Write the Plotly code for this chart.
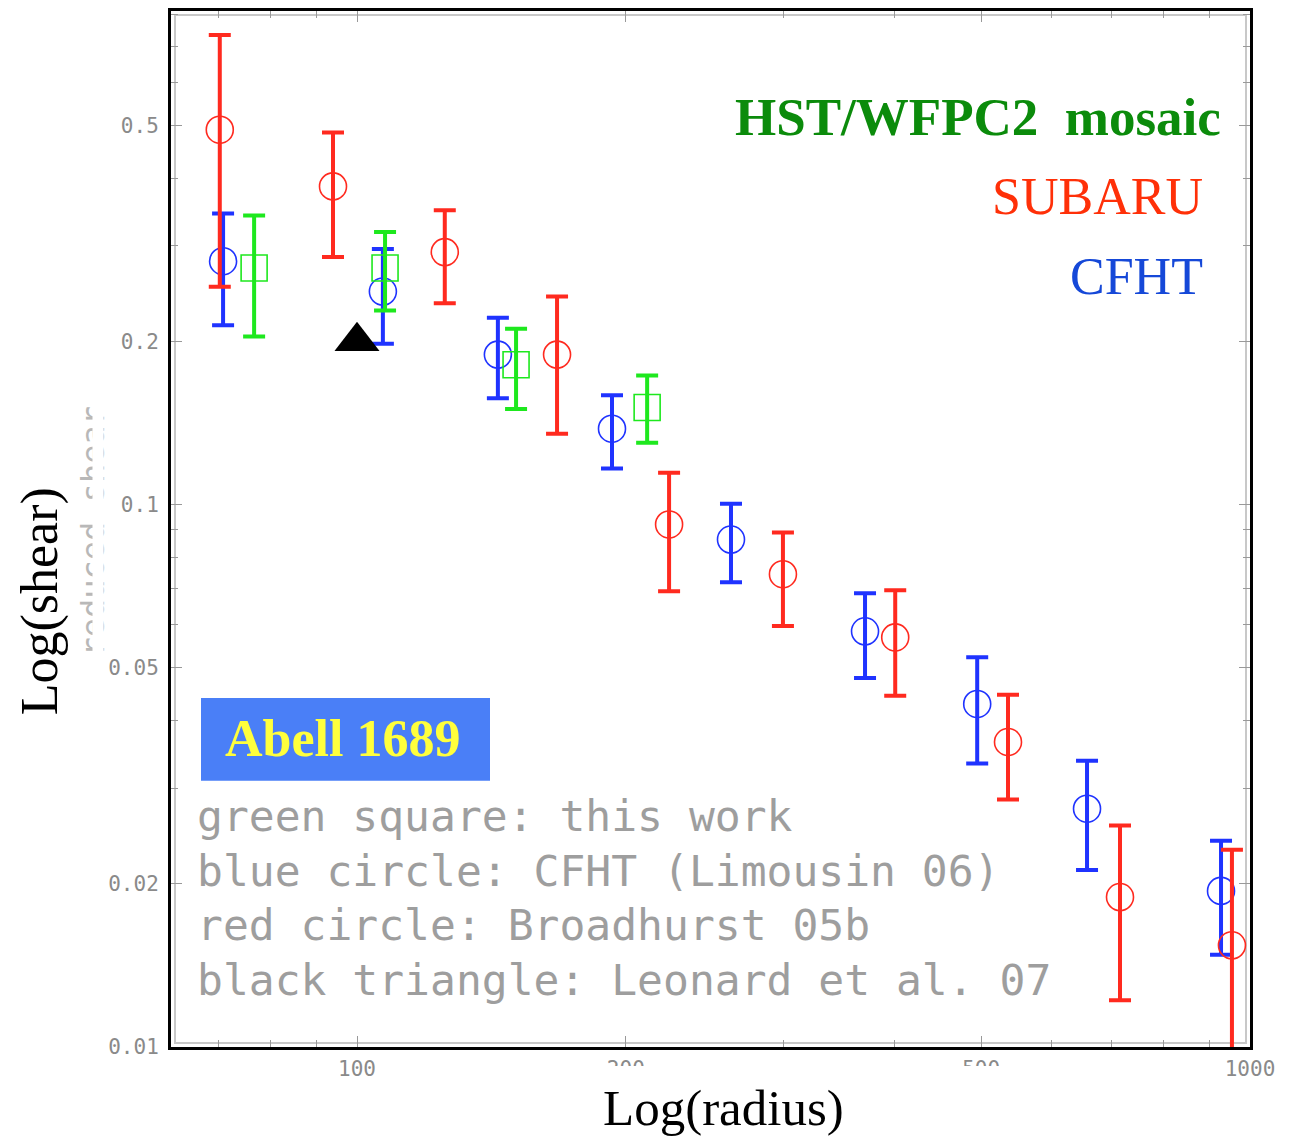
import plotly.graph_objects as go

# ---- shear profile data (radius, reduced shear, upper / lower bounds) ----
subaru_r = [70.2, 94.0, 125.4, 167.5, 223.6, 299.9, 400.6, 535.8, 715.2, 954.5]
subaru_g = [0.491, 0.386, 0.292, 0.189, 0.0919, 0.0744, 0.0569, 0.0365, 0.0189, 0.0154]
subaru_hi = [0.734, 0.485, 0.349, 0.242, 0.1145, 0.0888, 0.0695, 0.0446, 0.0256, 0.0231]
subaru_lo = [0.252, 0.286, 0.235, 0.135, 0.0692, 0.0597, 0.0444, 0.0286, 0.0122, 0.0080]

cfht_r = [70.8, 106.9, 143.8, 193.0, 262.3, 370.6, 494.9, 656.9, 928.0]
cfht_g = [0.281, 0.247, 0.189, 0.138, 0.0862, 0.0584, 0.0429, 0.0275, 0.0194]
cfht_hi = [0.344, 0.296, 0.221, 0.159, 0.1004, 0.0686, 0.0523, 0.0337, 0.0240]
cfht_lo = [0.214, 0.198, 0.157, 0.1165, 0.0719, 0.0479, 0.0333, 0.0212, 0.0148]

hst_r = [76.7, 107.5, 150.7, 211.3]
hst_g = [0.273, 0.273, 0.181, 0.151]
hst_hi = [0.341, 0.318, 0.211, 0.173]
hst_lo = [0.204, 0.228, 0.150, 0.130]

leonard_r = [100]
leonard_g = [0.2]

# ---- axis ticks ----
x_tickvals = [100, 200, 500, 1000]
x_ticktext = ["100", "200", "500", "1000"]
x_minor = [70, 80, 90, 300, 400, 600, 700, 800, 900]
y_tickvals = [0.01, 0.02, 0.05, 0.1, 0.2, 0.5]
y_ticktext = ["0.01", "0.02", "0.05", "0.1", "0.2", "0.5"]
y_minor = [0.03, 0.04, 0.06, 0.07, 0.08, 0.09, 0.3, 0.4, 0.6, 0.7, 0.8]

legend_lines = [
    "green square: this work",
    "blue circle: CFHT (Limousin 06)",
    "red circle: Broadhurst 05b",
    "black triangle: Leonard et al. 07",
]

RED = "#ff2a1f"
BLUE = "#1f33ff"
GREEN = "#1ee81e"

# page / plot-area geometry (pixels)
WIDTH, HEIGHT = 1296, 1136
L, R, T, B = 171, 1250, 8, 1047


def paper(xp, yp):
    return (xp - L) / (R - L), (B - yp) / (B - T)


def series(r, g, hi, lo, color, symbol, size, name):
    return go.Scatter(
        x=r, y=g, mode="markers", name=name,
        marker=dict(symbol=symbol, size=size, color=color,
                    line=dict(color=color, width=1.6)),
        error_y=dict(type="data", symmetric=False,
                     array=[h - v for h, v in zip(hi, g)],
                     arrayminus=[v - l for v, l in zip(g, lo)],
                     color=color, thickness=4, width=11),
        showlegend=False,
    )


fig = go.Figure()
fig.add_trace(series(cfht_r, cfht_g, cfht_hi, cfht_lo, BLUE, "circle-open", 27, "CFHT"))
fig.add_trace(series(hst_r, hst_g, hst_hi, hst_lo, GREEN, "square-open", 26, "HST/WFPC2"))
fig.add_trace(series(subaru_r, subaru_g, subaru_hi, subaru_lo, RED, "circle-open", 27, "SUBARU"))
fig.add_trace(go.Scatter(
    x=leonard_r, y=leonard_g, mode="markers", name="Leonard et al. 07",
    marker=dict(symbol="triangle-up", size=39, color="black"),
    showlegend=False,
))

tick_font = dict(family="DejaVu Sans Mono", size=21, color="#8a8a8a")

fig.update_xaxes(
    type="log", range=[2 + (L - 357) / 893, 3.0],
    tickmode="array", tickvals=x_tickvals, ticktext=x_ticktext,
    ticks="inside", ticklen=11, tickwidth=1, tickcolor="#999999",
    minor=dict(tickmode="array", tickvals=x_minor, ticks="inside",
               ticklen=7, tickwidth=1, tickcolor="#999999"),
    showline=True, linecolor="black", linewidth=3, mirror="ticks",
    showgrid=False, zeroline=False, tickfont=tick_font,
    ticklabelstandoff=1,
)
fig.update_yaxes(
    type="log", range=[-2, -1 + (503 - T) / 544],
    tickmode="array", tickvals=y_tickvals, ticktext=y_ticktext,
    ticks="inside", ticklen=11, tickwidth=1, tickcolor="#999999",
    minor=dict(tickmode="array", tickvals=y_minor, ticks="inside",
               ticklen=7, tickwidth=1, tickcolor="#999999"),
    showline=True, linecolor="black", linewidth=3, mirror="ticks",
    showgrid=False, zeroline=False, tickfont=tick_font,
    ticklabelstandoff=5,
)

shapes = []
# faint inner frame
x0, y0 = paper(L + 4, B - 4)
x1, y1 = paper(R - 4, T + 4)
shapes.append(dict(type="rect", xref="paper", yref="paper", x0=x0, y0=y0, x1=x1, y1=y1,
                   line=dict(color="#c8c8c8", width=2), layer="below"))
# blank band under the x axis behind the axis title
x0, y0 = paper(545, 1136)
x1, y1 = paper(1195, 1066)
shapes.append(dict(type="rect", xref="paper", yref="paper", x0=x0, y0=y0, x1=x1, y1=y1,
                   line=dict(width=0), fillcolor="white", layer="above"))
# cluster name box
x0, y0 = paper(201, 780)
x1, y1 = paper(490, 697)
shapes.append(dict(type="rect", xref="paper", yref="paper", x0=x0, y0=y0, x1=x1, y1=y1,
                   line=dict(width=0), fillcolor="#4a7ff7", layer="above"))

annotations = []


def note(text, xp, yp, size, color, family="Liberation Serif", xanchor="center",
         yanchor="middle", angle=0, bold=False, **kw):
    ax, ay = paper(xp, yp)
    if bold:
        text = "<b>" + text + "</b>"
    annotations.append(dict(text=text, x=ax, y=ay, xref="paper", yref="paper",
                            xanchor=xanchor, yanchor=yanchor, showarrow=False,
                            textangle=angle,
                            font=dict(family=family, size=size, color=color), **kw))


# faint original y label, partly blanked
note("reduced shear", 72, 530, 32, "#b8b8b8", family="DejaVu Sans Mono",
     xanchor="left", angle=-90)
note("\u00a0", 92, 530, 10, "white", xanchor="left", bgcolor="white",
     width=10, height=280, borderpad=0)

note("HST/WFPC2\u00a0\u00a0mosaic", 1223, 114, 53, "#0b8b0b", xanchor="right", bold=True)
note("SUBARU", 1205, 194, 52, "#ff3008", xanchor="right")
note("CFHT", 1205, 274, 52, "#1548d8", xanchor="right")
note("Abell 1689", 342, 738, 52, "#ffff3c", bold=True)

for i, line in enumerate(legend_lines):
    note(line, 195, 815 + 55 * i, 43, "#9e9e9e", family="DejaVu Sans Mono", xanchor="left")

note("Log(radius)", 723, 1108, 51, "black", borderpad=0)
note("Log(shear)", 40, 600, 52, "black", angle=-90)

fig.update_layout(
    width=WIDTH, height=HEIGHT,
    margin=dict(l=L, r=WIDTH - R, t=T, b=HEIGHT - B),
    paper_bgcolor="white", plot_bgcolor="white",
    shapes=shapes, annotations=annotations,
    showlegend=False,
)

fig.write_html("out.html")
